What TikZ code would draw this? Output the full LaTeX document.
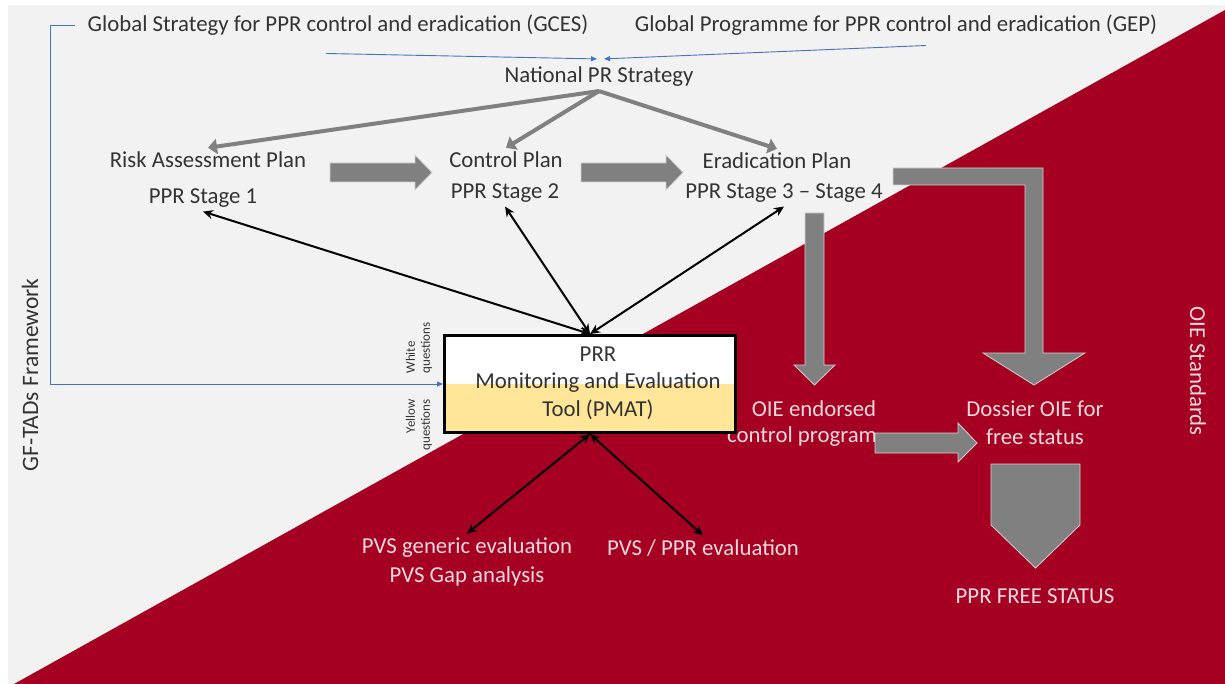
\documentclass[tikz,border=0pt]{standalone}
\usepackage{fontspec}
\setmainfont{Carlito}
\usepackage{tikz}
\usetikzlibrary{calc}
\usetikzlibrary{positioning}
\usetikzlibrary{arrows.meta}
\definecolor{bggrey}{HTML}{F2F2F2}
\definecolor{oiered}{HTML}{A50021}
\definecolor{pmatyellow}{HTML}{FFE699}
\definecolor{arrgrey}{HTML}{808080}
\definecolor{txtgrey}{HTML}{333333}
\definecolor{pinktxt}{HTML}{F3D9DE}
\definecolor{linkblue}{HTML}{4472C4}
\tikzset{
  plabel/.style = {align=center, inner sep=4pt, text=txtgrey,
    font=\fontsize{22.8}{28}\selectfont},
  rlabel/.style = {plabel, text=pinktxt},% text on the red part
  qlabel/.style = {inner sep=0pt, text=txtgrey, rotate=90,
    font=\fontsize{13}{15}\selectfont},
  pmatbox/.style = {draw=black, line width=3pt, minimum width=291pt, minimum height=97pt,
    fill=white, path picture={\fill[pmatyellow] (path picture bounding box.west) rectangle (path picture bounding box.south east);}},
  bluearr/.style = {draw=linkblue, line width=0.9pt, -{Triangle[length=6pt,width=5pt]}},
  greyarr/.style = {draw=arrgrey, line width=4pt, -{Triangle[length=9pt,width=15pt]}},
  linkarr/.style = {draw=black, line width=2pt,
    {Stealth[length=10pt,width=9pt]}-{Stealth[length=10pt,width=9pt]}},
  blockarr/.style = {fill=arrgrey, draw=gray!35, line width=0.8pt},
}
\begin{document}
\begin{tikzpicture}[x=1pt,y=-1pt]
\useasboundingbox (0,0) rectangle (1225,684);
% background
\fill[bggrey] (8,5) rectangle (1225,684);
\fill[oiered] (14,684) -- (1225,10) -- (1225,684) -- cycle;

% texts
\node [plabel] (gces) at (338,25) {Global Strategy for PPR control and eradication (GCES)};
\node [plabel] (gep) at (896,25) {Global Programme for PPR control and eradication (GEP)};
\node [plabel] (nat) at (599,77) {National PR Strategy};
\node [plabel] (risk) at (208,160) {Risk Assessment Plan};
\node [plabel] (stage1) at (203,198) {PPR Stage 1};
\node [plabel] (ctrl) at (506,160) {Control Plan};
\node [plabel] (stage2) at (505,193) {PPR Stage 2};
\node [plabel] (erad) at (777,161) {Eradication Plan};
\node [plabel] (stage34) at (784,193) {PPR Stage 3 – Stage 4};
\node [plabel, rotate=90, font=\fontsize{23.5}{28}\selectfont] (gftads) at (30,375) {GF-TADs Framework};
\node [rlabel, rotate=-90] (oiestd) at (1198,371) {OIE Standards};

% block arrows
\filldraw[blockarr] (330,163) -- (415,163) -- (415,155) -- (432,172.5) -- (415,190) -- (415,182) -- (330,182) -- cycle;
\filldraw[blockarr] (581,163) -- (666,163) -- (666,155) -- (683,172.5) -- (666,190) -- (666,182) -- (581,182) -- cycle;
\filldraw[blockarr] (893,168) -- (1043,168) -- (1043,353) -- (1085,353) -- (1034,385) -- (983,353)
  -- (1025,353) -- (1025,185) -- (893,185) -- cycle;
\filldraw[blockarr] (805,213) -- (824,213) -- (824,365) -- (835,365) -- (814.5,385) -- (794,365) -- (805,365) -- cycle;
\filldraw[blockarr] (991,464) -- (1080,464) -- (1080,525) -- (1035.5,568) -- (991,525) -- cycle;%free status

\node [rlabel] (oieend) at (814,409) {OIE endorsed};
\node [rlabel] (ctrlprog) at (802,437) {control program};
\filldraw[blockarr] (875,433) -- (958,433) -- (958,423) -- (977,443) -- (958,462) -- (958,453) -- (875,453) -- cycle;
\node [rlabel] (dossier) at (1035,423) {Dossier OIE for\\free status};
\node [rlabel] (free) at (1035,596) {PPR FREE STATUS};
\node [rlabel, font=\fontsize{22.8}{29}\selectfont] (pvsgen) at (467,562) {PVS generic evaluation\\PVS Gap analysis};
\node [rlabel] (pvsppr) at (703,548) {PVS / PPR evaluation};

% PMAT
\node [pmatbox] (pmat) at (590,384) {};
\node [plabel, font=\fontsize{22.8}{27.5}\selectfont] (pmattxt) at (598,383) {PRR\\Monitoring and Evaluation\\Tool (PMAT)};
\node [qlabel, align=left] (whiteq) at (419,348) {White\\questions};
\node [qlabel, align=right] (yellowq) at (419,425) {Yellow\\questions};

% connectors
\coordinate (fwcorner) at (50,25);
\draw[bluearr, shorten <=9pt] (gces.west) -- (fwcorner) |- (pmat.west);
\draw[bluearr] ($(gces.south)+(-12,14)$) -- ($(nat.north)+(-2,-4)$);
\draw[bluearr] ($(gep.south)+(30,6)$) -- ($(nat.north)+(5,-4)$);
\draw[greyarr] (nat.south) -- (risk.north);
\draw[greyarr] (nat.south) -- (ctrl.north);
\draw[greyarr] (nat.south) -- (erad.north);
\draw[linkarr] (pmat.north) -- (stage1.south);
\draw[linkarr] (pmat.north) -- (stage2.south);
\draw[linkarr] (pmat.north) -- (stage34.south);
\draw[linkarr] (pmat.south) -- (pvsgen.north);
\draw[linkarr] (pmat.south) -- (pvsppr.north);
\end{tikzpicture}
\end{document}
